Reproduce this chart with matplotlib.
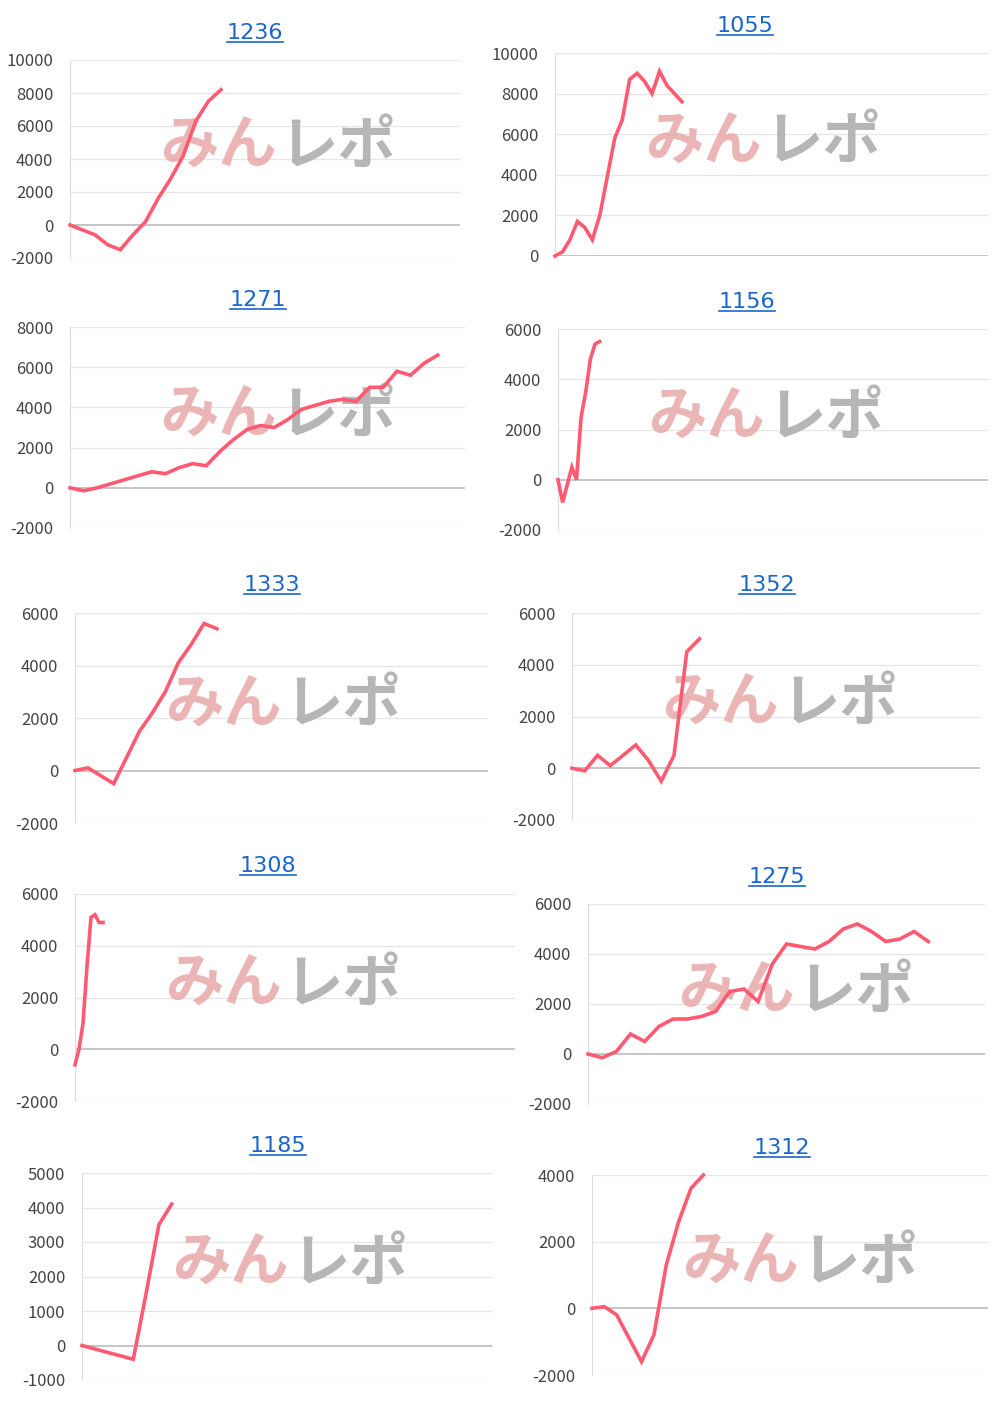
import matplotlib.pyplot as plt
from matplotlib.lines import Line2D

plt.rcParams['font.family'] = ['Noto Sans CJK JP', 'DejaVu Sans']
plt.rcParams['axes.unicode_minus'] = False

W, H = 1000, 1403

titles = ['1236', '1055', '1271', '1156', '1333', '1352', '1308', '1275', '1185', '1312']

s1236 = [0, -300, -600, -1200, -1500, -600, 200, 1600, 2800, 4200, 6300, 7500, 8200]
s1055 = [0, 200, 800, 1700, 1400, 800, 2000, 3900, 5800, 6700, 8700, 9000, 8600, 8000,
         9100, 8400, 8000, 7600]
s1271 = [0, -150, 0, 200, 400, 600, 800, 700, 1000, 1200, 1100, 1800, 2400, 2900, 3100,
         3000, 3400, 3900, 4100, 4300, 4400, 4300, 5000, 5000, 5800, 5600, 6200, 6600]
s1156 = [0, -900, -200, 500, 0, 2500, 3500, 4800, 5400, 5500]
s1333 = [0, 100, -200, -500, 500, 1500, 2200, 3000, 4100, 4800, 5600, 5400]
s1352 = [0, -100, 500, 100, 500, 900, 300, -500, 500, 4500, 5000]
s1308 = [-600, 0, 1000, 3200, 5100, 5200, 4900, 4900]
s1275 = [0, -150, 100, 800, 500, 1100, 1400, 1400, 1500, 1700, 2500, 2600, 2100, 3600,
         4400, 4300, 4200, 4500, 5000, 5200, 4900, 4500, 4600, 4900, 4500]
s1185 = [0, -100, -200, -300, -400, 1500, 3500, 4100]
s1312 = [0, 50, -200, -900, -1600, -800, 1300, 2600, 3600, 4000]
series = [s1236, s1055, s1271, s1156, s1333, s1352, s1308, s1275, s1185, s1312]

xmax = [31, 58, 29, 93, 32, 32, 110, 28, 32, 32]
ylims = [(-2000, 10000), (0, 10000), (-2000, 8000), (-2000, 6000), (-2000, 6000),
         (-2000, 6000), (-2000, 6000), (-2000, 6000), (-1000, 5000), (-2000, 4000)]
ysteps = [2000, 2000, 2000, 2000, 2000, 2000, 2000, 2000, 1000, 2000]

# left, right, top, bottom in pixels
boxes = [(70, 460, 60, 258), (555, 988, 53, 256), (70, 465, 327, 528), (558, 988, 329, 530),
         (75, 488, 613, 823), (572, 980, 613, 820), (75, 515, 894, 1101), (588, 985, 904, 1104),
         (82, 492, 1173, 1380), (592, 988, 1175, 1375)]
title_x = [255, 745, 258, 747, 272, 767, 268, 777, 278, 782]
title_y = [33, 26, 300, 302, 585, 585, 866, 877, 1146, 1148]

fig = plt.figure(figsize=(W / 100, H / 100), dpi=100)
fig.patch.set_facecolor('white')

labels = []
for i in range(10):
    l, r, t, b = boxes[i]
    ax = fig.add_axes([l / W, 1 - b / H, (r - l) / W, (b - t) / H])
    y0, y1 = ylims[i]
    ticks = list(range(y0, y1 + 1, ysteps[i]))
    for v in ticks:
        ax.axhline(v, color='#bbbbbb' if v == 0 else '#e6e6e6', lw=1.2 if v == 0 else 0.9, zorder=0)
    ax.plot(range(len(series[i])), series[i], color='#ff5a72', lw=2.6, zorder=3,
            solid_joinstyle='miter', clip_on=False)
    ax.set_xlim(0, xmax[i])
    ax.set_ylim(y0, y1)
    ax.set_yticks(ticks)
    ax.set_xticks([])
    ax.tick_params(axis='y', length=0, labelsize=12, colors='#444444', pad=12)
    for s in ['top', 'right', 'bottom']:
        ax.spines[s].set_visible(False)
    ax.spines['left'].set_color('#dddddd')
    # watermark
    wx = 148 + (l - 70)  # offset so the mark sits like in the reference
    ax.text((wx + 70 - l) / (r - l), 0.56, 'みん', transform=ax.transAxes, fontsize=42,
            fontweight='bold', style='italic', color='#e8a8a8', alpha=0.85,
            ha='center', va='center', zorder=2)
    ax.text((wx + 190 - l) / (r - l), 0.56, 'レポ', transform=ax.transAxes, fontsize=42,
            fontweight='bold', style='italic', color='#aaaaaa', alpha=0.85,
            ha='center', va='center', zorder=2)
    txt = fig.text(title_x[i] / W, 1 - title_y[i] / H, titles[i], fontsize=16, color='#1a66cc',
                   ha='center', va='center', family='DejaVu Sans')
    labels.append(txt)

fig.canvas.draw()
rend = fig.canvas.get_renderer()
for txt in labels:
    bb = txt.get_window_extent(rend).transformed(fig.transFigure.inverted())
    fig.add_artist(Line2D([bb.x0, bb.x1], [bb.y0 + 0.001, bb.y0 + 0.001],
                          color='#1a66cc', lw=1.2, transform=fig.transFigure))

fig.savefig('out.png', dpi=100)
